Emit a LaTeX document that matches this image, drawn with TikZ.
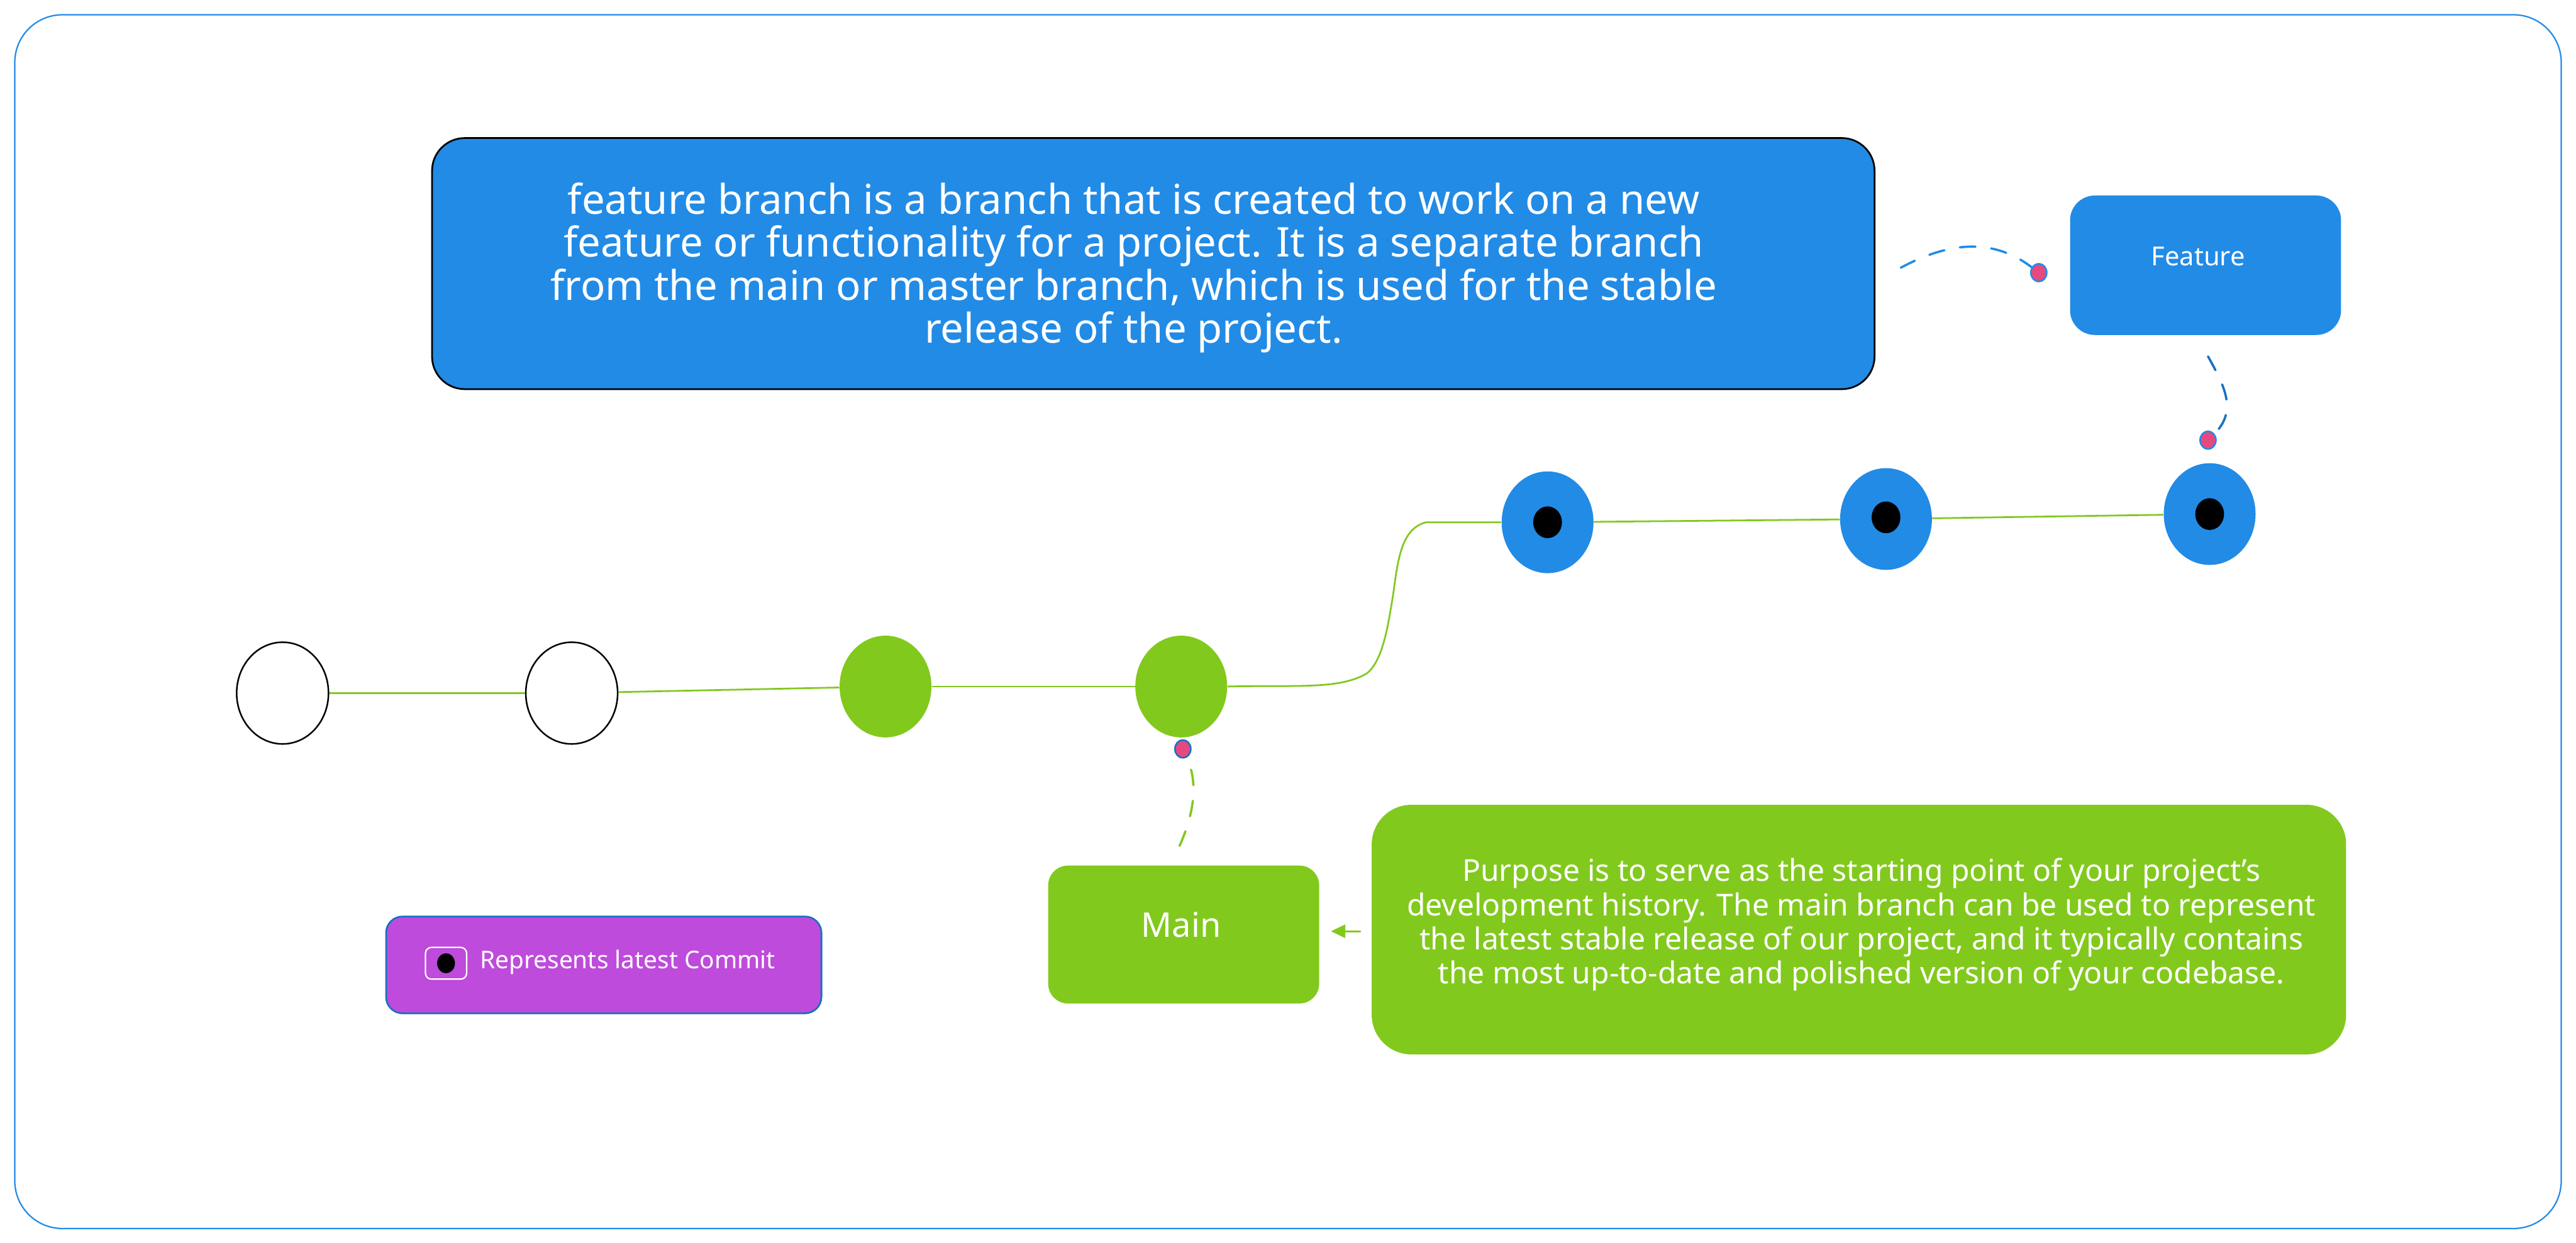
\documentclass[tikz,border=0pt]{standalone}
\usepackage{fontspec}
\setmainfont{Noto Sans}
\usetikzlibrary{shapes.geometric,arrows.meta}
\definecolor{fblue}{HTML}{228BE6}
\definecolor{dblue}{HTML}{1971C2}
\definecolor{fgreen}{HTML}{82C91E}
\definecolor{fpink}{HTML}{E64980}
\definecolor{fpurple}{HTML}{BE4BDB}
\begin{document}
\begin{tikzpicture}[x=0.0331cm,y=-0.0331cm,
  commit/.style={ellipse,minimum width=1.85cm,minimum height=2.05cm,inner sep=0pt},
  oldc/.style={commit,draw=black,line width=0.9pt,fill=white},
  mainc/.style={commit,fill=fgreen},
  featc/.style={commit,fill=fblue},
  headdot/.style={ellipse,fill=black,minimum width=0.58cm,minimum height=0.64cm,inner sep=0pt},
  pin/.style={ellipse,fill=fpink,draw=fblue,line width=0.9pt,minimum width=0.32cm,minimum height=0.36cm,inner sep=0pt},
  branchline/.style={fgreen,line width=1pt},
  linkline/.style={line width=1.3pt,dash pattern=on 9pt off 9pt,line cap=round},
  card/.style={rectangle,inner sep=0pt},
  cardtext/.style={text=white,align=center,inner sep=0pt}
]
\useasboundingbox (0,0) rectangle (1568,756.8);
% outer frame
\draw[fblue,line width=0.8pt,rounded corners=0.96cm] (9,9) rectangle (1559,748);

% description of feature branch
\node[card,fill=fblue,draw=black,line width=1pt,rounded corners=0.66cm,minimum width=29.06cm,minimum height=5.06cm] (fdesc) at (702,160.5) {};
\node[cardtext,font=\fontsize{23.5}{24.7}\selectfont] (fdesctext) at (690,163) {feature branch is a branch that is created to work on a new\\feature or functionality for a project. It is a separate branch\\from the main or master branch, which is used for the stable\\release of the project.};

% feature label
\node[card,fill=fblue,rounded corners=0.5cm,minimum width=5.46cm,minimum height=2.81cm] (fbox) at (1342.5,161.5) {};
\node[cardtext,font=\fontsize{15}{18}\selectfont] (ftext) at (1338,156) {Feature};

% main label
\node[card,fill=fgreen,rounded corners=0.4cm,minimum width=5.46cm,minimum height=2.78cm] (mbox) at (720.5,569) {};
\node[cardtext,font=\fontsize{19.5}{22}\selectfont] (mtext) at (719,563) {Main};

% description of main branch
\node[card,fill=fgreen,rounded corners=0.8cm,minimum width=19.63cm,minimum height=5.03cm] (mdesc) at (1131.5,566) {};
\node[cardtext,font=\fontsize{17.3}{19.6}\selectfont] (mdesctext) at (1133,563) {Purpose is to serve as the starting point of your project's\\development history. The main branch can be used to represent\\the latest stable release of our project, and it typically contains\\the most up-to-date and polished version of your codebase.};

% legend
\node[card,fill=fpurple,draw=dblue,line width=1pt,rounded corners=0.33cm,minimum width=8.77cm,minimum height=1.95cm] (legend) at (367.5,587.5) {};
\node[card,draw=white,line width=0.8pt,rounded corners=0.12cm,minimum width=0.83cm,minimum height=0.64cm] (legicon) at (271.5,586.5) {};
\node[ellipse,fill=black,minimum width=0.36cm,minimum height=0.4cm,inner sep=0pt] (legdot) at (271.5,586.5) {};
\node[cardtext,font=\fontsize{14}{17}\selectfont,anchor=west] (legtext) at (292,586) {Represents latest Commit};

% commits
\node[oldc] (c1) at (172,422) {};
\node[oldc] (c2) at (348,422) {};
\node[mainc] (c3) at (539,418) {};
\node[mainc] (c4) at (719,418) {};
\node[featc] (c5) at (942,318) {};
\node[featc] (c6) at (1148,316) {};
\node[featc] (c7) at (1345,313) {};
\node[headdot] (h5) at (942,318) {};
\node[headdot] (h6) at (1148,315) {};
\node[headdot] (h7) at (1345,313) {};

% branch line
\draw[branchline] (c1) -- (c2);
\draw[branchline] (c2) -- (c3);
\draw[branchline] (c3) -- (c4);
\draw[branchline] (c4.east) .. controls (790,417) and (815,420) .. (832,410)
  .. controls (842,402) and (845,380) .. (848,362)
  .. controls (851,340) and (853,322) .. (868,318) -- (c5.west);
\draw[branchline] (c5) -- (c6);
\draw[branchline] (c6) -- (c7);

% pins
\node[pin] (p1) at (1241,166) {};
\node[pin] (p2) at (1344,268) {};
\node[pin,draw=dblue] (p3) at (720,456) {};

% dashed links
\coordinate (s1) at (1157,163);
\coordinate (s2) at (1344,217);
\coordinate (s3) at (718,515);
\draw[linkline,fblue] (s1) .. controls (1185,148) and (1212,144) .. (p1);
\draw[linkline,dblue] (s2) .. controls (1354,235) and (1362,250) .. (p2);
\draw[linkline,fgreen] (s3) .. controls (726,497) and (730,478) .. (p3);

% arrow from main description to main label
\coordinate (s4) at (828,567);
\draw[fgreen,line width=1pt,line cap=round,-{Triangle[length=0.29cm,width=0.27cm]},shorten >=0.23cm] (s4) -- (s4 -| mbox.east);
\end{tikzpicture}
\end{document}
